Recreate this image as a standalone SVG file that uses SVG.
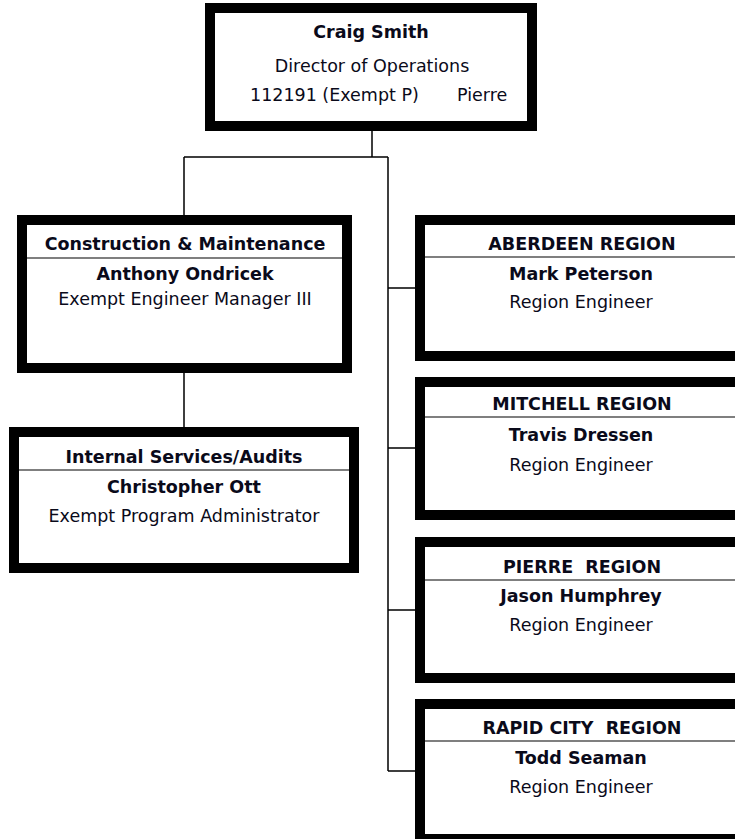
<svg xmlns="http://www.w3.org/2000/svg" width="735" height="839" viewBox="0 0 735 839">
<style>
.box{fill:#fff;stroke:#000;stroke-width:10}
.div{stroke:#000;stroke-width:1.2}
.con{stroke:#000;stroke-width:1.5;fill:none}
text{font-family:"DejaVu Sans","Liberation Sans",sans-serif;font-size:17.5px;fill:#0a0a1a;white-space:pre}
.b{font-weight:bold}
.c{text-anchor:middle}
</style>
<rect width="735" height="839" fill="#fff"/>
<g id="connectors">
<path class="con" d="M372 131V157M184 157H388M184 157V215M184 373V427M388 157V771M388 288H415M388 448H415M388 610H415M388 771H415"/>
</g>
<g id="director">
<rect class="box" x="210" y="8" width="322" height="118"/>
<text class="b c" x="371" y="38">Craig Smith</text>
<text class="c" x="372" y="72">Director of Operations</text>
<text x="250" y="101">112191 (Exempt P)</text>
<text x="457" y="101">Pierre</text>
</g>
<g id="construction">
<rect class="box" x="22" y="220" width="325" height="148"/>
<line class="div" x1="27" y1="258" x2="342" y2="258"/>
<text class="b c" x="185" y="250">Construction &amp; Maintenance</text>
<text class="b c" x="185" y="280">Anthony Ondricek</text>
<text class="c" x="185" y="305">Exempt Engineer Manager III</text>
</g>
<g id="internal">
<rect class="box" x="14" y="432" width="340" height="136"/>
<line class="div" x1="19" y1="470" x2="349" y2="470"/>
<text class="b c" x="184" y="463">Internal Services/Audits</text>
<text class="b c" x="184" y="493">Christopher Ott</text>
<text class="c" x="184" y="522">Exempt Program Administrator</text>
</g>
<g id="aberdeen">
<rect class="box" x="420" y="220" width="330" height="136"/>
<line class="div" x1="425" y1="257" x2="745" y2="257"/>
<text class="b c" x="582" y="250">ABERDEEN REGION</text>
<text class="b c" x="581" y="280">Mark Peterson</text>
<text class="c" x="581" y="308">Region Engineer</text>
</g>
<g id="mitchell">
<rect class="box" x="420" y="382" width="330" height="133"/>
<line class="div" x1="425" y1="417" x2="745" y2="417"/>
<text class="b c" x="582" y="410">MITCHELL REGION</text>
<text class="b c" x="581" y="441">Travis Dressen</text>
<text class="c" x="581" y="471">Region Engineer</text>
</g>
<g id="pierre">
<rect class="box" x="420" y="542" width="330" height="136"/>
<line class="div" x1="425" y1="580" x2="745" y2="580"/>
<text class="b c" x="582" y="573" xml:space="preserve">PIERRE  REGION</text>
<text class="b c" x="581" y="602">Jason Humphrey</text>
<text class="c" x="581" y="631">Region Engineer</text>
</g>
<g id="rapidcity">
<rect class="box" x="420" y="704" width="330" height="135"/>
<line class="div" x1="425" y1="741" x2="745" y2="741"/>
<text class="b c" x="582" y="734" xml:space="preserve">RAPID CITY  REGION</text>
<text class="b c" x="581" y="764">Todd Seaman</text>
<text class="c" x="581" y="793">Region Engineer</text>
</g>
</svg>
